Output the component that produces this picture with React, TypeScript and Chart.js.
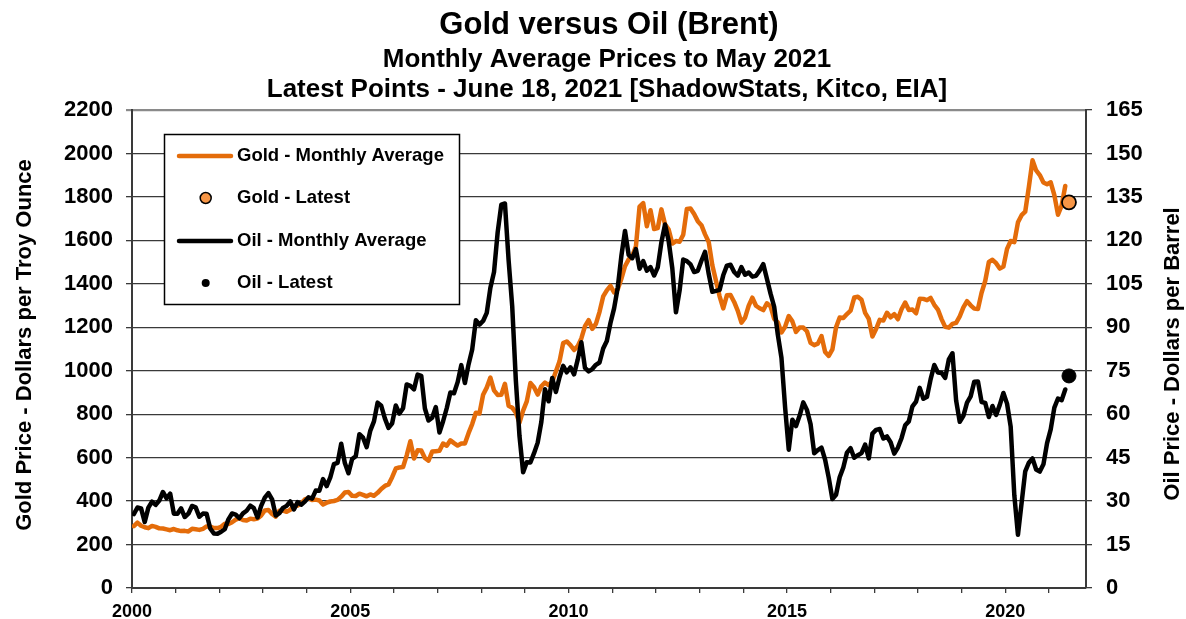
import React, { useEffect, useRef } from 'react';
import { Chart, registerables } from 'chart.js';

Chart.register(...registerables);

// ---------------- data ----------------
const START_YEAR = 2000;

// Gold, monthly average, US$ per troy ounce, Jan 2000 .. May 2021
const goldMonthly: number[] = [
  284.6, 300.9, 286.4, 279.7, 275.3, 285.7, 281.6, 274.5, 273.7, 270.0, 266.0, 271.5,
  265.5, 261.9, 263.0, 260.5, 272.4, 270.2, 267.5, 272.4, 283.4, 283.1, 276.2, 275.9,
  281.7, 295.5, 294.0, 302.7, 314.5, 321.2, 313.3, 310.3, 319.2, 316.6, 319.2, 333.4,
  356.9, 359.0, 340.6, 328.2, 355.7, 356.4, 351.0, 359.8, 378.9, 378.9, 389.9, 407.6,
  413.8, 404.9, 406.7, 403.0, 383.8, 392.4, 398.1, 400.5, 405.3, 420.5, 439.4, 442.1,
  424.0, 423.4, 434.2, 428.9, 421.9, 430.7, 424.5, 437.9, 456.0, 469.9, 476.7, 510.1,
  549.9, 555.0, 557.1, 610.6, 675.4, 596.2, 633.7, 632.6, 598.2, 585.8, 627.8, 629.8,
  631.2, 664.8, 654.9, 679.4, 666.9, 655.5, 665.3, 665.4, 712.7, 754.6, 806.3, 803.2,
  889.6, 922.3, 968.4, 909.7, 888.7, 889.5, 939.8, 839.0, 829.9, 806.6, 760.9, 816.1,
  858.7, 943.2, 924.3, 890.2, 928.6, 945.7, 934.2, 949.4, 996.6, 1043.2, 1127.0, 1134.7,
  1118.0, 1095.4, 1113.3, 1148.7, 1205.4, 1232.9, 1193.0, 1215.8, 1271.0, 1342.0, 1369.9, 1390.6,
  1360.5, 1374.7, 1423.3, 1480.9, 1512.6, 1529.4, 1572.8, 1755.8, 1771.9, 1665.2, 1739.0, 1652.3,
  1656.1, 1742.6, 1673.8, 1649.7, 1585.5, 1596.7, 1593.9, 1626.0, 1744.8, 1747.0, 1721.6, 1688.5,
  1670.0, 1627.6, 1592.9, 1485.1, 1414.0, 1342.4, 1286.7, 1347.1, 1348.6, 1316.6, 1275.8, 1221.5,
  1244.3, 1299.6, 1336.1, 1299.0, 1287.5, 1279.1, 1310.6, 1296.0, 1238.8, 1222.5, 1176.3, 1202.3,
  1251.8, 1227.1, 1178.6, 1198.9, 1198.6, 1181.5, 1128.3, 1117.9, 1124.8, 1159.3, 1086.4, 1068.3,
  1097.9, 1199.5, 1245.1, 1242.3, 1260.9, 1276.4, 1336.7, 1340.2, 1326.6, 1266.6, 1238.4, 1157.4,
  1192.1, 1234.2, 1231.1, 1266.9, 1246.0, 1260.3, 1236.8, 1283.0, 1314.1, 1279.5, 1281.9, 1264.5,
  1331.3, 1330.7, 1324.7, 1334.8, 1303.5, 1281.6, 1237.7, 1201.7, 1198.4, 1215.4, 1220.7, 1250.4,
  1291.8, 1320.1, 1300.9, 1285.9, 1283.7, 1359.0, 1412.9, 1500.4, 1510.6, 1494.8, 1470.0, 1479.1,
  1560.7, 1597.1, 1591.9, 1683.2, 1715.9, 1732.2, 1846.5, 1968.6, 1921.9, 1900.3, 1866.3, 1858.4,
  1867.0, 1808.2, 1718.2, 1760.0, 1850.3,
];

// Brent oil, monthly average, US$ per barrel, Jan 2000 .. May 2021
const oilMonthly: number[] = [
  25.51, 27.78, 27.49, 22.76, 27.74, 29.80, 28.68, 30.20, 33.14, 30.96, 32.55, 25.66,
  25.62, 27.50, 24.50, 25.66, 28.31, 27.85, 24.61, 25.68, 25.62, 20.54, 18.80, 18.71,
  19.42, 20.28, 23.70, 25.73, 25.35, 24.08, 25.74, 26.65, 28.40, 27.54, 24.34, 28.33,
  31.18, 32.77, 30.61, 25.00, 25.86, 27.65, 28.35, 29.89, 27.11, 29.61, 28.75, 29.81,
  31.28, 30.86, 33.63, 33.59, 37.57, 35.18, 38.22, 42.74, 43.20, 49.78, 43.11, 39.60,
  44.51, 45.48, 53.10, 51.88, 48.65, 54.35, 57.52, 63.98, 62.91, 58.54, 55.24, 56.86,
  62.99, 60.21, 62.06, 70.26, 69.78, 68.56, 73.67, 73.23, 61.96, 57.81, 58.76, 62.47,
  53.68, 57.56, 62.05, 67.49, 67.21, 71.05, 76.93, 70.76, 77.17, 82.34, 92.41, 90.93,
  92.18, 94.99, 103.64, 109.07, 122.80, 132.32, 132.72, 113.24, 97.23, 71.58, 52.45, 39.95,
  43.44, 43.32, 46.54, 50.18, 57.30, 68.61, 64.44, 72.51, 67.65, 72.77, 76.66, 74.46,
  76.17, 73.75, 78.83, 84.82, 75.95, 74.76, 75.58, 77.04, 77.84, 82.67, 85.28, 91.45,
  96.52, 103.72, 114.64, 123.26, 114.99, 113.83, 116.97, 110.22, 112.83, 109.55, 110.77, 107.87,
  110.69, 119.33, 125.45, 119.75, 110.34, 95.16, 102.62, 113.36, 112.86, 111.71, 109.06, 109.49,
  112.96, 116.05, 108.47, 102.25, 102.56, 102.92, 107.93, 111.28, 111.60, 109.08, 107.79, 110.76,
  108.12, 108.90, 107.48, 107.76, 109.54, 111.80, 106.77, 101.61, 97.09, 87.43, 79.44, 62.34,
  47.76, 58.10, 55.89, 59.52, 64.08, 61.48, 56.56, 46.52, 47.62, 48.43, 44.27, 38.01,
  30.70, 32.18, 38.21, 41.58, 46.74, 48.25, 44.95, 45.84, 46.57, 49.52, 44.73, 53.31,
  54.58, 54.87, 51.59, 52.31, 50.33, 46.37, 48.48, 51.70, 56.15, 57.51, 62.71, 64.37,
  69.08, 65.32, 66.02, 72.11, 76.98, 74.41, 74.25, 72.53, 78.89, 81.03, 64.75, 57.36,
  59.41, 63.96, 66.14, 71.23, 71.32, 64.22, 63.92, 59.04, 62.83, 59.71, 63.21, 67.31,
  63.65, 55.66, 32.01, 18.38, 29.38, 40.27, 43.24, 44.74, 40.91, 40.19, 42.69, 49.99,
  54.77, 62.28, 65.41, 64.81, 68.53,
];

// latest points, June 18, 2021 (decimal year)
const latestDate = 2021.46;
const goldLatest = 1775;
const oilLatest = 73.2;

const xMin = 2000;
const xMax = 2021.85;
const xLabelEvery = 5;
const goldAxis = { min: 0, max: 2200, step: 200 };
const oilAxis = { min: 0, max: 165, step: 15 };

const titleLines = [
  'Gold versus Oil (Brent)',
  'Monthly Average Prices to May 2021',
  'Latest Points - June 18, 2021 [ShadowStats, Kitco, EIA]',
];
const leftAxisTitle = 'Gold Price - Dollars per Troy Ounce';
const rightAxisTitle = 'Oil Price - Dollars per Barrel';
const legendLabels = ['Gold - Monthly Average', 'Gold - Latest', 'Oil - Monthly Average', 'Oil - Latest'];

// ---------------- styles ----------------
const FONT = "'Liberation Sans', Arial, Helvetica, sans-serif";
const GOLD = '#E46C0A';
const GOLD_DOT = '#F79646';
const OIL = '#000000';
const GRID = '#3a3a3a';

const toPoints = (vals: number[]) =>
  vals.map((v, i) => ({ x: START_YEAR + (i + 0.5) / 12, y: v }));

function drawText(
  ctx: CanvasRenderingContext2D,
  str: string,
  x: number,
  y: number,
  size: number,
  align: CanvasTextAlign,
  baseline: CanvasTextBaseline,
  rotate = 0,
) {
  ctx.save();
  ctx.translate(x, y);
  if (rotate) ctx.rotate(rotate);
  ctx.font = `bold ${size}px ${FONT}`;
  ctx.fillStyle = '#000';
  ctx.textAlign = align;
  ctx.textBaseline = baseline;
  ctx.fillText(str, 0, 0);
  ctx.restore();
}

const textPlugin = {
  id: 'customText',
  afterDraw(chart: any) {
    const ctx: CanvasRenderingContext2D = chart.ctx;
    const { y, y1, x } = chart.scales;

    // titles
    drawText(ctx, titleLines[0], 609, 34, 31, 'center', 'alphabetic');
    drawText(ctx, titleLines[1], 607, 67, 26, 'center', 'alphabetic');
    drawText(ctx, titleLines[2], 607, 97, 26, 'center', 'alphabetic');

    // left tick labels
    y.ticks.forEach((t: any) => {
      drawText(ctx, String(t.value), 113, y.getPixelForValue(t.value), 22, 'right', 'middle');
    });
    // right tick labels
    y1.ticks.forEach((t: any) => {
      drawText(ctx, String(t.value), 1106, y1.getPixelForValue(t.value), 22, 'left', 'middle');
    });
    // x tick labels
    x.ticks.forEach((t: any) => {
      const v = Math.round(t.value);
      if (Math.abs(t.value - v) < 1e-6 && v % xLabelEvery === 0) {
        drawText(ctx, String(v), x.getPixelForValue(v), 617, 18, 'center', 'alphabetic');
      }
    });

    // axis titles (both read bottom to top)
    drawText(ctx, leftAxisTitle, 31, 345, 22, 'center', 'alphabetic', -Math.PI / 2);
    drawText(ctx, rightAxisTitle, 1179, 354, 22, 'center', 'alphabetic', -Math.PI / 2);

    // legend box
    const bx = 164.5, by = 134.5, bw = 295, bh = 170;
    ctx.save();
    ctx.fillStyle = '#fff';
    ctx.fillRect(bx, by, bw, bh);
    ctx.strokeStyle = '#000';
    ctx.lineWidth = 1.5;
    ctx.strokeRect(bx, by, bw, bh);
    const rows = [156, 198, 241, 283];
    ctx.lineCap = 'round';
    ctx.lineWidth = 4.5;
    ctx.strokeStyle = GOLD;
    ctx.beginPath();
    ctx.moveTo(179, rows[0]);
    ctx.lineTo(231, rows[0]);
    ctx.stroke();
    ctx.beginPath();
    ctx.arc(205.7, rows[1], 5.5, 0, Math.PI * 2);
    ctx.fillStyle = GOLD_DOT;
    ctx.fill();
    ctx.lineWidth = 1.5;
    ctx.strokeStyle = '#000';
    ctx.stroke();
    ctx.lineWidth = 4.5;
    ctx.strokeStyle = OIL;
    ctx.beginPath();
    ctx.moveTo(179, rows[2]);
    ctx.lineTo(231, rows[2]);
    ctx.stroke();
    ctx.beginPath();
    ctx.arc(205.7, rows[3], 4, 0, Math.PI * 2);
    ctx.fillStyle = '#000';
    ctx.fill();
    ctx.restore();
    legendLabels.forEach((lab, i) => {
      drawText(ctx, lab, 237, rows[i], 18.5, 'left', 'middle');
    });
  },
};

export default function App() {
  const canvasRef = useRef<HTMLCanvasElement | null>(null);

  useEffect(() => {
    document.body.style.margin = '0';
    document.body.style.overflow = 'hidden';
    const canvas = canvasRef.current;
    if (!canvas) return;

    const chart = new Chart(canvas, {
      type: 'line',
      data: {
        datasets: [
          {
            label: 'Gold - Latest',
            type: 'scatter',
            data: [{ x: latestDate, y: goldLatest }],
            yAxisID: 'y',
            pointRadius: 7,
            pointBackgroundColor: GOLD_DOT,
            pointBorderColor: '#000',
            pointBorderWidth: 1.8,
            order: 0,
          },
          {
            label: 'Oil - Latest',
            type: 'scatter',
            data: [{ x: latestDate, y: oilLatest }],
            yAxisID: 'y1',
            pointRadius: 7,
            pointBackgroundColor: '#000',
            pointBorderColor: '#000',
            pointBorderWidth: 1,
            order: 0,
          },
          {
            label: 'Oil - Monthly Average',
            data: toPoints(oilMonthly),
            yAxisID: 'y1',
            borderColor: OIL,
            borderWidth: 4.5,
            pointRadius: 0,
            tension: 0,
            borderJoinStyle: 'round',
            borderCapStyle: 'round',
            fill: false,
            order: 1,
          },
          {
            label: 'Gold - Monthly Average',
            data: toPoints(goldMonthly),
            yAxisID: 'y',
            borderColor: GOLD,
            borderWidth: 4.5,
            pointRadius: 0,
            tension: 0,
            borderJoinStyle: 'round',
            borderCapStyle: 'round',
            fill: false,
            order: 2,
          },
        ],
      },
      options: {
        responsive: false,
        animation: false,
        events: [],
        layout: { padding: { top: 110, left: 0, right: 0, bottom: 0 } },
        plugins: {
          legend: { display: false },
          title: { display: false },
          tooltip: { enabled: false },
        },
        scales: {
          x: {
            type: 'linear',
            min: xMin,
            max: xMax,
            position: 'bottom',
            ticks: { display: false, stepSize: 1, includeBounds: false },
            grid: {
              drawOnChartArea: false,
              drawTicks: true,
              tickLength: 5,
              color: GRID,
              lineWidth: 1.3,
            },
            border: { display: true, color: GRID, width: 2 },
            afterFit: (s: any) => {
              s.height = 31;
            },
          },
          y: {
            type: 'linear',
            position: 'left',
            min: goldAxis.min,
            max: goldAxis.max,
            ticks: { display: false, stepSize: goldAxis.step },
            grid: {
              drawOnChartArea: true,
              drawTicks: true,
              tickLength: 6,
              color: (c: any) => (c.tick && c.tick.value === goldAxis.max ? '#8a8a8a' : GRID),
              lineWidth: (c: any) => (c.tick && c.tick.value === goldAxis.max ? 2.2 : 1.3),
            },
            border: { display: true, color: GRID, width: 2 },
            afterFit: (s: any) => {
              s.width = 132;
            },
          },
          y1: {
            type: 'linear',
            position: 'right',
            min: oilAxis.min,
            max: oilAxis.max,
            ticks: { display: false, stepSize: oilAxis.step },
            grid: {
              drawOnChartArea: false,
              drawTicks: true,
              tickLength: 6,
              color: GRID,
              lineWidth: 1.3,
            },
            border: { display: true, color: GRID, width: 2 },
            afterFit: (s: any) => {
              s.width = 100;
            },
          },
        },
      } as any,
      plugins: [textPlugin],
    });

    return () => chart.destroy();
  }, []);

  return (
    <div style={{ width: 1186, height: 619, position: 'relative', background: '#fff' }}>
      <canvas ref={canvasRef} width={1186} height={619} style={{ display: 'block' }} />
    </div>
  );
}
